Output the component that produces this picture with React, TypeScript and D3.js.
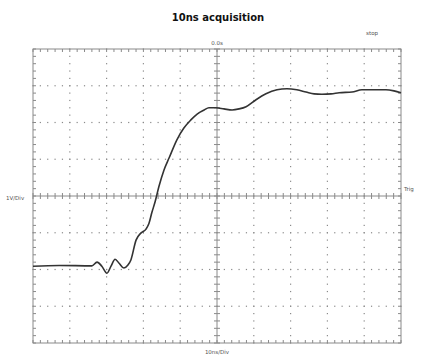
import React from "react";
import * as d3 from "d3";

const timeNs = [-50, -42.9, -34.0, -32.6, -31.3, -29.9, -28.8, -27.7, -26.6, -25.3, -24.2, -23.4, -22.0, -20.7, -19.3, -18.5, -17.7, -16.8, -15.8, -14.4, -13.0, -10.9, -9.0, -7.1, -5.4, -3.5, -2.2, -0.3, 1.9, 4.1, 6.0, 7.9, 10.6, 13.3, 16.3, 19.0, 21.7, 24.2, 26.4, 28.5, 31.0, 33.2, 36.7, 39.4, 42.7, 45.9, 48.1, 50];
const volts = [-1.91, -1.89, -1.9, -1.8, -1.91, -2.1, -1.91, -1.72, -1.83, -1.96, -1.88, -1.74, -1.2, -1.01, -0.9, -0.75, -0.45, -0.15, 0.25, 0.71, 1.04, 1.53, 1.85, 2.07, 2.23, 2.34, 2.4, 2.4, 2.37, 2.34, 2.37, 2.43, 2.62, 2.78, 2.89, 2.92, 2.89, 2.83, 2.78, 2.77, 2.78, 2.81, 2.83, 2.89, 2.89, 2.89, 2.86, 2.81];

const title = "10ns acquisition";
const topLabel = "0.0s";
const topRightLabel = "stop";
const leftLabel = "1V/Div";
const rightLabel = "Trig";
const bottomLabel = "10ns/Div";

const xDomain = [-50, 50];
const yDomain = [-4, 4];

export default function App() {
  const W = 425, H = 360;
  const L = 33, R = 401, T = 49, B = 343;
  const x = d3.scaleLinear().domain(xDomain).range([L, R]);
  const y = d3.scaleLinear().domain(yDomain).range([B, T]);
  const majorX = d3.range(-50, 50.01, 10);
  const majorY = d3.range(-4, 4.01, 1);
  const minorX = d3.range(-50, 50.01, 2);
  const minorY = d3.range(-4, 4.01, 0.2);
  const pts = timeNs.map((t, i) => [t, volts[i]] as [number, number]);
  const line = d3.line<[number, number]>().x(d => x(d[0])).y(d => y(d[1])).curve(d3.curveMonotoneX);
  const gridColor = "#8a8a8a";
  const font = "DejaVu Sans, Arial, sans-serif";

  const dots: JSX.Element[] = [];
  majorX.slice(1, -1).forEach(t => {
    if (t === 0) return;
    minorY.forEach((v, j) => dots.push(<rect key={`vx${t}_${j}`} x={x(t) - 0.6} y={y(v) - 0.6} width={1.2} height={1.2} fill={gridColor} />));
  });
  majorY.slice(1, -1).forEach(v => {
    if (v === 0) return;
    minorX.forEach((t, j) => dots.push(<rect key={`hy${v}_${j}`} x={x(t) - 0.6} y={y(v) - 0.6} width={1.2} height={1.2} fill={gridColor} />));
  });

  const ticks: JSX.Element[] = [];
  minorX.forEach((t, j) => {
    ticks.push(<line key={`tt${j}`} x1={x(t)} x2={x(t)} y1={T} y2={T + 3} stroke={gridColor} />);
    ticks.push(<line key={`tb${j}`} x1={x(t)} x2={x(t)} y1={B} y2={B - 3} stroke={gridColor} />);
    ticks.push(<line key={`tc${j}`} x1={x(t)} x2={x(t)} y1={y(0) - 3} y2={y(0) + 3} stroke={gridColor} />);
  });
  minorY.forEach((v, j) => {
    ticks.push(<line key={`tl${j}`} x1={L} x2={L + 3} y1={y(v)} y2={y(v)} stroke={gridColor} />);
    ticks.push(<line key={`tr${j}`} x1={R} x2={R - 3} y1={y(v)} y2={y(v)} stroke={gridColor} />);
    ticks.push(<line key={`tcv${j}`} x1={x(0) - 3} x2={x(0) + 3} y1={y(v)} y2={y(v)} stroke={gridColor} />);
  });

  return (
    <svg width={W} height={H} style={{ position: "absolute", left: 0, top: 0, background: "#fff" }}>
      <rect width={W} height={H} fill="#fff" />
      <text x={218} y={21} textAnchor="middle" fontFamily={font} fontWeight="bold" fontSize={10} fill="#111">{title}</text>
      <text x={x(0)} y={45} textAnchor="middle" fontFamily={font} fontSize={5.5} fill="#555">{topLabel}</text>
      <text x={378} y={35} textAnchor="end" fontFamily={font} fontSize={5.5} fill="#555">{topRightLabel}</text>
      <text x={6} y={200} fontFamily={font} fontSize={5.5} fill="#555">{leftLabel}</text>
      <text x={404} y={191} fontFamily={font} fontSize={5.5} fill="#555">{rightLabel}</text>
      <text x={x(0)} y={354} textAnchor="middle" fontFamily={font} fontSize={5.5} fill="#555">{bottomLabel}</text>
      {dots}
      <rect x={L} y={T} width={R - L} height={B - T} fill="none" stroke={gridColor} strokeWidth={1} />
      <line x1={L} x2={R} y1={y(0)} y2={y(0)} stroke={gridColor} />
      <line x1={x(0)} x2={x(0)} y1={T} y2={B} stroke={gridColor} />
      {ticks}
      <path d={line(pts) || ""} fill="none" stroke="#333" strokeWidth={1.6} />
    </svg>
  );
}
